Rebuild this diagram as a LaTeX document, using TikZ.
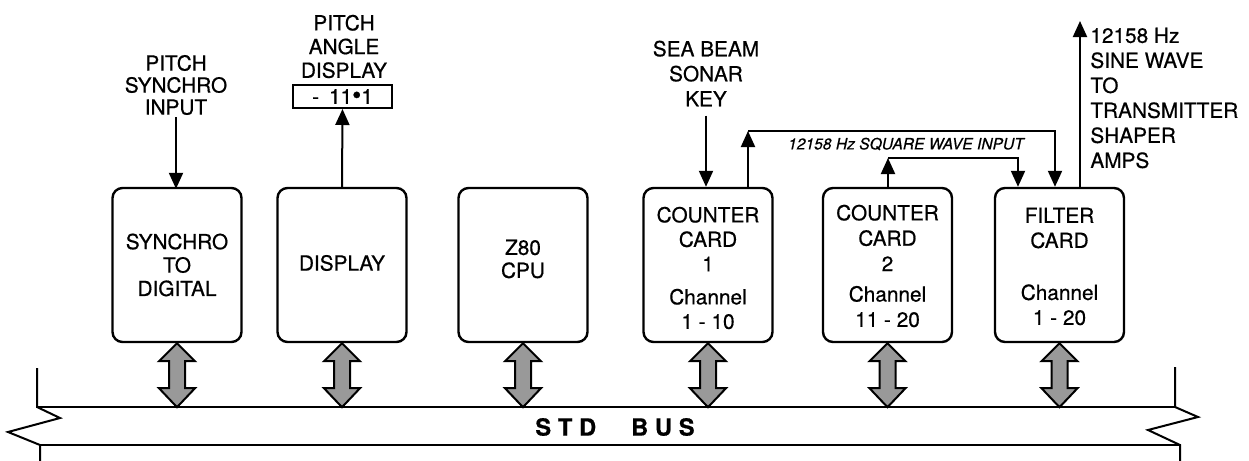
\documentclass[tikz,border=0pt]{standalone}
\usepackage{fontspec}
\setmainfont{TeX Gyre Heros}[FakeBold=0.6]
\usetikzlibrary{arrows.meta}
\begin{document}
\begin{tikzpicture}[x=0.5pt,y=-0.5pt,
  box/.style={draw,line width=1.2pt,rounded corners=5pt,minimum width=64.5pt,minimum height=77pt,inner sep=0pt},
  lbl/.style={align=center,inner sep=0pt,font=\fontsize{10.4}{#1}\selectfont},
  lbl/.default=12.25pt,
  arr/.style={line width=1pt,-{Triangle[length=8pt,width=7pt]}},
  ln/.style={line width=1pt},
  busarr/.style={draw,line width=1pt,fill=black!40,line join=miter},
  busarrow/.pic={\path[busarr] (0,0) -- (18,18) -- (8,18) -- (8,45) -- (18,45) -- (0,64) -- (-18,45) -- (-8,45) -- (-8,18) -- (-18,18) -- cycle;}
]
\useasboundingbox (0,0) rectangle (1249,461);

% boxes
\node[box] (b1) at (177,265) {};
\node[box] (b2) at (342,265) {};
\node[box] (b3) at (523,265) {};
\node[box] (b4) at (708,265) {};
\node[box] (b5) at (887.5,265) {};
\node[box] (b6) at (1059.5,265) {};

% box texts
\node[lbl=11.7pt] (t1) at (177,265) {SYNCHRO\\TO\\DIGITAL};
\node[lbl] (t2) at (342,263) {DISPLAY};
\node[lbl=11.5pt] (t3) at (523,259) {Z80\\CPU};
\node[lbl=12.25pt] (t4) at (708,268) {COUNTER\\CARD\\1\\[4.25pt]Channel\\1 - 10};
\node[lbl=12.7pt] (t5) at (887.5,266) {COUNTER\\CARD\\2\\[2.5pt]Channel\\11 - 20};
\node[lbl=12.5pt] (t6) at (1059.5,266.5) {FILTER\\CARD\\[13.5pt]Channel\\1 - 20};

% labels
\node[lbl=11pt] (L1) at (176,85) {PITCH\\SYNCHRO\\INPUT};
\node[lbl=11.85pt] (L2) at (344,46.5) {PITCH\\ANGLE\\DISPLAY};
\node[draw,line width=1pt,minimum width=49.5pt,minimum height=11.5pt,inner sep=0pt,font=\fontsize{10.4}{12}\selectfont] (disp) at (342.5,96.5) {-\hspace{5pt}11{\fontsize{13}{12}\selectfont\textbullet}1};
\node[lbl=12.5pt] (L3) at (706,73.5) {SEA BEAM\\SONAR\\KEY};
\node[align=left,anchor=west,inner sep=0pt,font=\fontsize{10.4}{12.5}\selectfont] (L4) at (1090,98) {12158 Hz\\SINE WAVE\\TO\\TRANSMITTER\\SHAPER\\AMPS};
\node[inner sep=0pt,font=\fontsize{7.8}{9}\selectfont\itshape] (sq) at (906,144) {12158 Hz SQUARE WAVE INPUT};

% connectors
\coordinate (j1) at (748,131);
\coordinate (j1r) at (1055,131);
\coordinate (j2) at (888,158);
\coordinate (j2r) at (1018,158);
\coordinate (out) at (1080,21);

\draw[arr] ([yshift=-1pt]L1.south) -- ([yshift=-1pt]L1.south |- b1.north);
\draw[arr] (b2.north) -- (disp.south);
\draw[arr] ([yshift=-4.5pt]L3.south) -- (L3.south |- b4.north);
\draw[arr] (b4.north -| j1) -- (j1);
\draw[arr] (j1) -- (j1r) -- (j1r |- b6.north);
\draw[arr] (b5.north -| j2) -- (j2);
\draw[arr] (j2) -- (j2r) -- (j2r |- b6.north);
\draw[arr] (b6.north -| out) -- (out);

% bus
\draw[ln] (37,368) -- (37,407) -- (60,418) -- (8,432) -- (40,445) -- (40,461);
\draw[ln] (1175,367) -- (1175,407) -- (1198,417) -- (1148,430) -- (1180,445) -- (1180,461);
\draw[ln] (37,407) -- (1175,407);
\draw[ln] (40,445) -- (1180,445);
\node[inner sep=0pt,font=\fontsize{11.8}{14}\selectfont\bfseries] (bus) at (615,427) {S\hspace{3.4pt}T\hspace{3.4pt}D\hspace{17.5pt}B\hspace{3.4pt}U\hspace{3.4pt}S};

% bus arrows
\foreach \b in {b1,b2,b3,b4,b5,b6} \pic at (\b.south) {busarrow};
\end{tikzpicture}
\end{document}
